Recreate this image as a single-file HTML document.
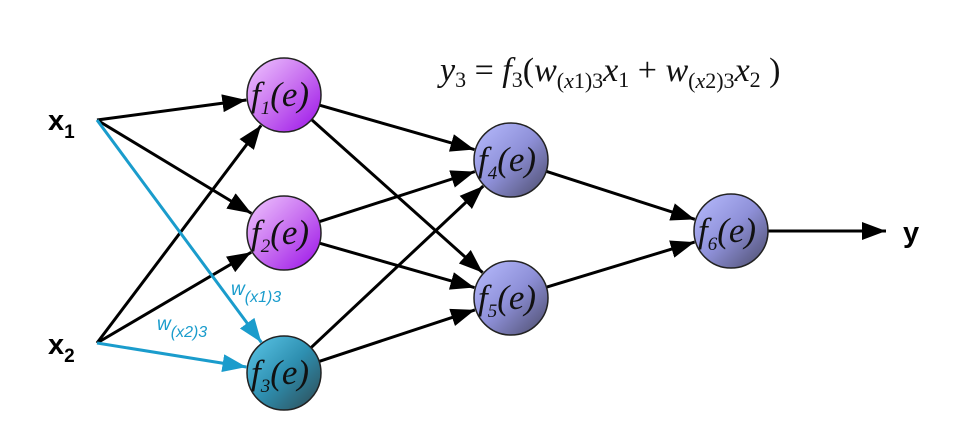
<!DOCTYPE html>
<html><head><meta charset="utf-8"><style>
html,body{margin:0;padding:0;background:#fff;width:970px;height:436px;overflow:hidden}
svg{display:block}
.nt{font-family:"Liberation Serif",serif;font-style:italic;font-size:35px;fill:#111}
.ns{font-size:19px}
</style></head><body>
<svg id="s" width="970" height="436" viewBox="0 0 970 436" xmlns="http://www.w3.org/2000/svg">
<defs>
<linearGradient id="gp" x1="0" y1="0" x2="1" y2="1"><stop offset="0" stop-color="#f0c8ff"/><stop offset="0.5" stop-color="#c870f0"/><stop offset="1" stop-color="#9a10e8"/></linearGradient>
<linearGradient id="gt" x1="0" y1="0" x2="1" y2="1"><stop offset="0" stop-color="#5cc8ea"/><stop offset="0.5" stop-color="#2e8fb0"/><stop offset="1" stop-color="#2e4850"/></linearGradient>
<linearGradient id="gb" x1="0" y1="0" x2="1" y2="1"><stop offset="0" stop-color="#b8bcff"/><stop offset="0.5" stop-color="#8e90d8"/><stop offset="1" stop-color="#4a4a68"/></linearGradient>
<marker id="ak" markerWidth="8" markerHeight="6" refX="8" refY="3" orient="auto" markerUnits="strokeWidth"><path d="M0,0 L8,3 L0,6 z" fill="#000"/></marker>
<marker id="ab" markerWidth="8" markerHeight="6" refX="8" refY="3" orient="auto" markerUnits="strokeWidth"><path d="M0,0 L8,3 L0,6 z" fill="#1a9ccc"/></marker>
</defs>
<g id="lines"></g>
<g id="nodes"></g>
<text x="48" y="130" font-family="Liberation Sans,sans-serif" font-weight="bold" font-size="29">x<tspan font-size="19" dy="8">1</tspan></text>
<text x="48" y="354" font-family="Liberation Sans,sans-serif" font-weight="bold" font-size="29">x<tspan font-size="19" dy="8">2</tspan></text>
<text x="903" y="242" font-family="Liberation Sans,sans-serif" font-weight="bold" font-size="29">y</text>
<text x="231" y="295" font-family="Liberation Sans,sans-serif" font-style="italic" font-size="19" fill="#1a9ccc">w<tspan font-size="16" dy="7">(x1)3</tspan></text>
<text x="157" y="330" font-family="Liberation Sans,sans-serif" font-style="italic" font-size="19" fill="#1a9ccc">w<tspan font-size="16" dy="7">(x2)3</tspan></text>
<text x="440" y="81" font-family="Liberation Serif,serif" font-size="34" fill="#111"><tspan font-style="italic">y</tspan><tspan font-size="22" dy="6">3</tspan><tspan dy="-6"> = </tspan><tspan font-style="italic">f</tspan><tspan font-size="22" dy="6">3</tspan><tspan dy="-6">(</tspan><tspan font-style="italic">w</tspan><tspan font-size="22" dy="7">(<tspan font-style="italic">x</tspan>1)3</tspan><tspan font-style="italic" dy="-7">x</tspan><tspan font-size="22" dy="6">1</tspan><tspan dy="-6"> + </tspan><tspan font-style="italic">w</tspan><tspan font-size="22" dy="7">(<tspan font-style="italic">x</tspan>2)3</tspan><tspan font-style="italic" dy="-7">x</tspan><tspan font-size="22" dy="6">2</tspan><tspan dy="-6"> )</tspan></text>
</svg>
<script>
var N={1:[284,95,'gp'],2:[284,233,'gp'],3:[284,373,'gt'],4:[511,160,'gb'],5:[511,298,'gb'],6:[731,231,'gb']};
var R=37,ns="http://www.w3.org/2000/svg";
var L=document.getElementById('lines'),G=document.getElementById('nodes');
function line(x1,y1,x2,y2,c,m){var l=document.createElementNS(ns,'line');l.setAttribute('x1',x1);l.setAttribute('y1',y1);l.setAttribute('x2',x2);l.setAttribute('y2',y2);l.setAttribute('stroke',c);l.setAttribute('stroke-width','3');l.setAttribute('marker-end','url(#'+m+')');L.appendChild(l);}
function edge(sx,sy,sr,t,c,m){var tx=N[t][0],ty=N[t][1];var dx=tx-sx,dy=ty-sy,d=Math.hypot(dx,dy);dx/=d;dy/=d;line(sx+dx*sr,sy+dy*sr,tx-dx*(R+1),ty-dy*(R+1),c,m);}
var X1=[97,120],X2=[97,343];
edge(X1[0],X1[1],0,1,'#000','ak');edge(X1[0],X1[1],0,2,'#000','ak');
edge(X2[0],X2[1],0,1,'#000','ak');edge(X2[0],X2[1],0,2,'#000','ak');
edge(X1[0],X1[1],0,3,'#1a9ccc','ab');edge(X2[0],X2[1],0,3,'#1a9ccc','ab');
[1,2,3].forEach(function(a){[4,5].forEach(function(b){edge(N[a][0],N[a][1],R,b,'#000','ak');});});
edge(N[4][0],N[4][1],R,6,'#000','ak');edge(N[5][0],N[5][1],R,6,'#000','ak');
line(768,231,886,231,'#000','ak');
for(var k in N){var n=N[k];var c=document.createElementNS(ns,'circle');c.setAttribute('cx',n[0]);c.setAttribute('cy',n[1]);c.setAttribute('r',R);c.setAttribute('fill','url(#'+n[2]+')');c.setAttribute('stroke','#222');c.setAttribute('stroke-width','1.5');G.appendChild(c);
var t=document.createElementNS(ns,'text');t.setAttribute('class','nt');t.setAttribute('x',n[0]-33);t.setAttribute('y',n[1]+11);
t.innerHTML='f<tspan class="ns" dy="8">'+k+'</tspan><tspan dy="-8">(e)</tspan>';G.appendChild(t);}
</script>
</body></html>
